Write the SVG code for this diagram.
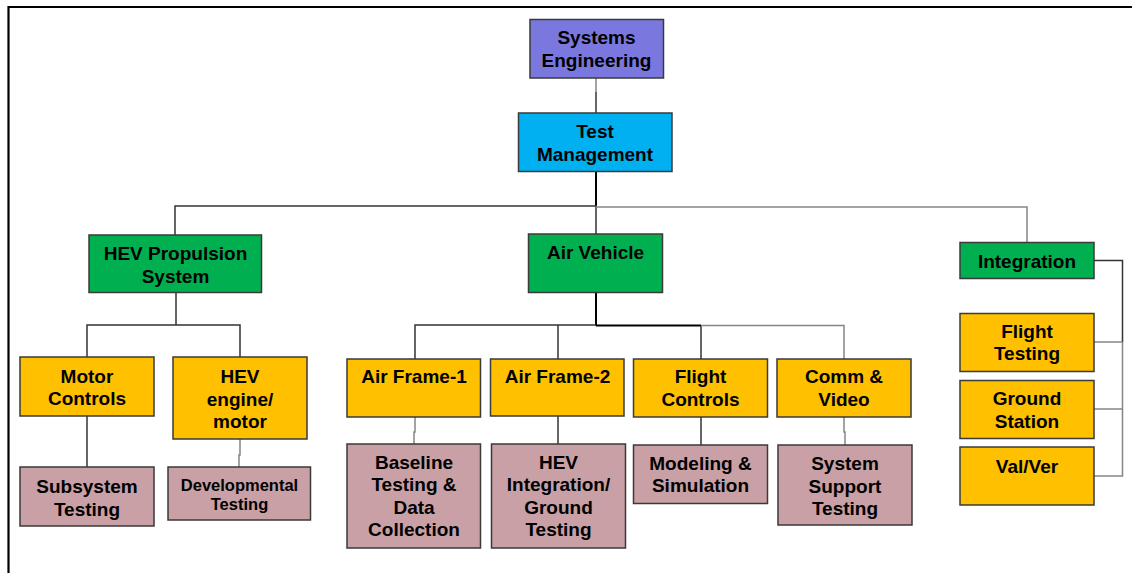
<svg xmlns="http://www.w3.org/2000/svg" width="1132" height="573" viewBox="0 0 1132 573">
<style>
.box{stroke:#3a3a3a;stroke-width:1.5}
.se{fill:#7A78DE}
.tm{fill:#00B0F0}
.gr{fill:#00B050}
.ye{fill:#FFC000}
.pk{fill:#C9A0A5}
text{font-family:"Liberation Sans",Arial,sans-serif;font-weight:bold;font-size:19px;fill:#000;text-anchor:middle}
.sm{font-size:16.5px}
.c{fill:none;stroke:#333;stroke-width:1.5}
.g{fill:none;stroke:#858585;stroke-width:1.5}
.k{fill:none;stroke:#000;stroke-width:2}
</style>
<rect width="1132" height="573" fill="#fff"/>
<path d="M8.5 573 V7 H1132" fill="none" stroke="#000" stroke-width="2.2"/>
<g id="connectors">
<path class="g" d="M596 78 V92"/>
<path class="c" d="M596 92 V113"/>
<path class="k" d="M596 172 V206"/>
<path class="c" d="M175 235 V206 H596 V234"/>
<path class="g" d="M596 207 H1027 V242"/>
<path class="c" d="M176 293 V325"/>
<path class="c" d="M87 357 V325 H240 V357"/>
<path class="c" d="M87 416 V467"/>
<path class="g" d="M240 439 V455 H239 V467"/>
<path class="k" d="M596 293 V325.5"/>
<path class="c" d="M415 359 V325 H596"/>
<path class="c" d="M558 359 V325"/>
<path class="k" d="M596 325.5 H701"/>
<path class="c" d="M701 325.5 V359"/>
<path class="g" d="M701 325.5 H844 V359"/>
<path class="g" d="M415 417 V432 H414 V444"/>
<path class="c" d="M558 416 V444"/>
<path class="c" d="M701 417 V445"/>
<path class="g" d="M844 417 V432 H845 V445"/>
<path class="c" d="M1094 260.5 H1122.5 V342"/>
<path class="g" d="M1122.5 342 V476 H1094"/>
<path class="g" d="M1094 342 H1122.5"/>
<path class="g" d="M1094 409 H1122.5"/>
</g>
<g id="systems-engineering"><rect class="box se" x="530" y="19.5" width="133.5" height="58.5"/><text x="596.5" y="44">Systems</text><text x="596.5" y="67">Engineering</text></g>
<g id="test-management"><rect class="box tm" x="518.5" y="113" width="153.5" height="58.5"/><text x="595" y="137.5">Test</text><text x="595" y="160.5">Management</text></g>
<g id="hev-propulsion"><rect class="box gr" x="89" y="235" width="172.5" height="57.5"/><text x="175.5" y="259.5">HEV Propulsion</text><text x="175.5" y="282.5">System</text></g>
<g id="air-vehicle"><rect class="box gr" x="528.5" y="234" width="134" height="58.5"/><text x="595.5" y="258.5">Air Vehicle</text></g>
<g id="integration"><rect class="box gr" x="960" y="242.5" width="134" height="36"/><text x="1027" y="267.5">Integration</text></g>
<g id="motor-controls"><rect class="box ye" x="20" y="357" width="134" height="59"/><text x="87" y="382.5">Motor</text><text x="87" y="405">Controls</text></g>
<g id="hev-engine"><rect class="box ye" x="173" y="357" width="134" height="82"/><text x="240" y="382.5">HEV</text><text x="240" y="405.5">engine/</text><text x="240" y="428">motor</text></g>
<g id="subsystem-testing"><rect class="box pk" x="20" y="467" width="134" height="59"/><text x="87" y="492.5">Subsystem</text><text x="87" y="515.5">Testing</text></g>
<g id="developmental-testing"><rect class="box pk" x="168" y="467" width="142.5" height="53"/><text class="sm" x="239.5" y="490.5">Developmental</text><text class="sm" x="239.5" y="509.5">Testing</text></g>
<g id="air-frame-1"><rect class="box ye" x="347" y="359" width="133.5" height="58"/><text x="414" y="383">Air Frame-1</text></g>
<g id="air-frame-2"><rect class="box ye" x="490.5" y="359" width="133.5" height="57"/><text x="557.5" y="383">Air Frame-2</text></g>
<g id="flight-controls"><rect class="box ye" x="633.5" y="359" width="134" height="58"/><text x="700.5" y="383">Flight</text><text x="700.5" y="405.5">Controls</text></g>
<g id="comm-video"><rect class="box ye" x="777" y="359" width="134" height="58"/><text x="844" y="383">Comm &amp;</text><text x="844" y="405.5">Video</text></g>
<g id="baseline-testing"><rect class="box pk" x="347" y="444" width="133.5" height="104"/><text x="414" y="468.5">Baseline</text><text x="414" y="491">Testing &amp;</text><text x="414" y="514">Data</text><text x="414" y="536">Collection</text></g>
<g id="hev-integration"><rect class="box pk" x="491.5" y="444" width="134" height="104"/><text x="558.5" y="468.5">HEV</text><text x="558.5" y="491">Integration/</text><text x="558.5" y="514">Ground</text><text x="558.5" y="536">Testing</text></g>
<g id="modeling-simulation"><rect class="box pk" x="633.5" y="445" width="134" height="58.5"/><text x="700.5" y="469.5">Modeling &amp;</text><text x="700.5" y="492">Simulation</text></g>
<g id="system-support-testing"><rect class="box pk" x="778" y="445" width="134" height="80"/><text x="845" y="469.5">System</text><text x="845" y="492.5">Support</text><text x="845" y="515">Testing</text></g>
<g id="flight-testing"><rect class="box ye" x="960" y="313.5" width="134" height="58"/><text x="1027" y="337.5">Flight</text><text x="1027" y="360">Testing</text></g>
<g id="ground-station"><rect class="box ye" x="960" y="380.5" width="134" height="58"/><text x="1027" y="405">Ground</text><text x="1027" y="427.5">Station</text></g>
<g id="val-ver"><rect class="box ye" x="960" y="447" width="134" height="58"/><text x="1027" y="472.5">Val/Ver</text></g>
</svg>
